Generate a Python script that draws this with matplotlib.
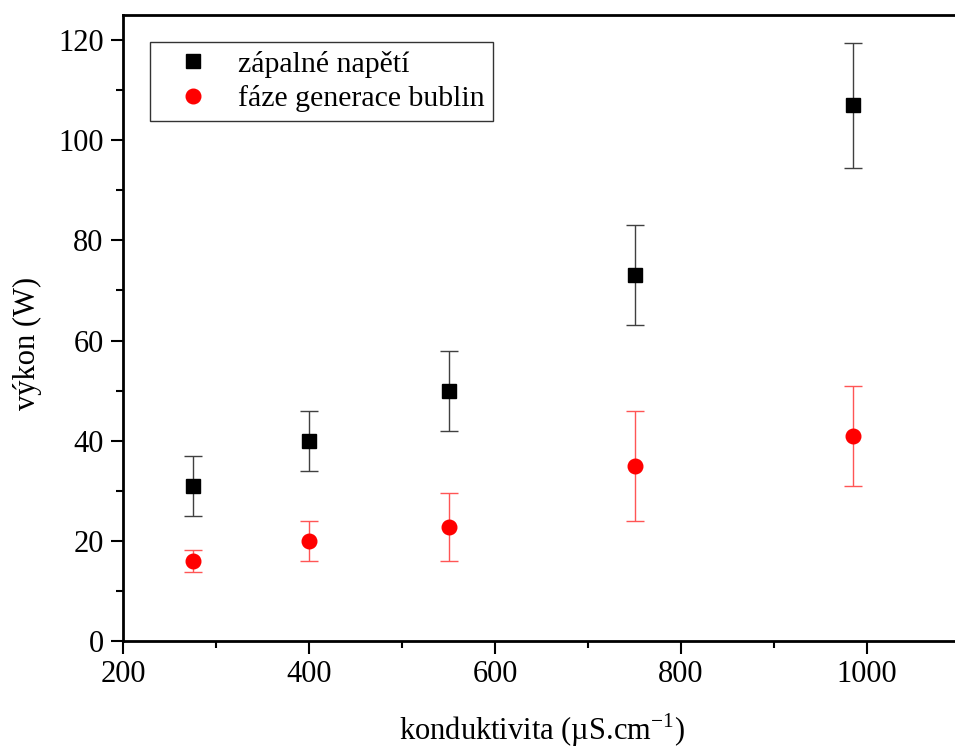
import numpy as np
import matplotlib.pyplot as plt
from matplotlib.ticker import MultipleLocator

plt.rcParams['font.family'] = ['Liberation Serif', 'DejaVu Serif']
plt.rcParams['mathtext.fontset'] = 'custom'
plt.rcParams['mathtext.rm'] = 'Liberation Serif'

conductivity = [275, 400, 550, 750, 985]
ignition = [31, 40, 50, 73, 107]
ignition_err = [6, 6, 8, 10, 12.5]
bubbles = [15.9, 20, 22.8, 35, 41]
bubbles_err = [2.2, 4, 6.75, 11, 10]

fig = plt.figure(figsize=(9.55, 7.49), dpi=100)
ax = fig.add_axes([123 / 955, 108 / 749, 837 / 955, 626 / 749])

ax.errorbar(conductivity, ignition, yerr=ignition_err, fmt='s', color='black',
            ecolor='0.25', elinewidth=1, capsize=6.5, capthick=1, markersize=9.5,
            label='zápalné napětí')
ax.errorbar(conductivity, bubbles, yerr=bubbles_err, fmt='o', color='red',
            ecolor='#ff5555', elinewidth=1, capsize=6.5, capthick=1, markersize=10.5,
            label='fáze generace bublin')

ax.set_xlim(200, 1100)
ax.set_ylim(0, 125)
ax.xaxis.set_major_locator(MultipleLocator(200))
ax.xaxis.set_minor_locator(MultipleLocator(100))
ax.yaxis.set_major_locator(MultipleLocator(20))
ax.yaxis.set_minor_locator(MultipleLocator(10))
ax.tick_params(which='major', direction='out', length=9, width=1.5, labelsize=22, pad=5)
ax.tick_params(which='minor', direction='out', length=5, width=1.5)
ax.tick_params(top=False, right=False)
for s in ax.spines.values():
    s.set_linewidth(2)

ax.set_xlabel('konduktivita (µS.cm$^{-1}$)', fontsize=22, labelpad=16)
ax.set_ylabel('výkon (W)', fontsize=22)
ax.yaxis.set_label_coords(-0.097, 0.476)

handles, labels = ax.get_legend_handles_labels()
handles = [h[0] for h in handles]
leg = ax.legend(handles, labels, loc='upper left', bbox_to_anchor=(0.032, 0.957),
                fontsize=21.5, frameon=True, fancybox=False, edgecolor='black',
                borderpad=0.3, handletextpad=0.35, handlelength=2.3, labelspacing=0.25,
                borderaxespad=0)
leg.get_frame().set_linewidth(1)

fig.savefig('out.png', dpi=100)
